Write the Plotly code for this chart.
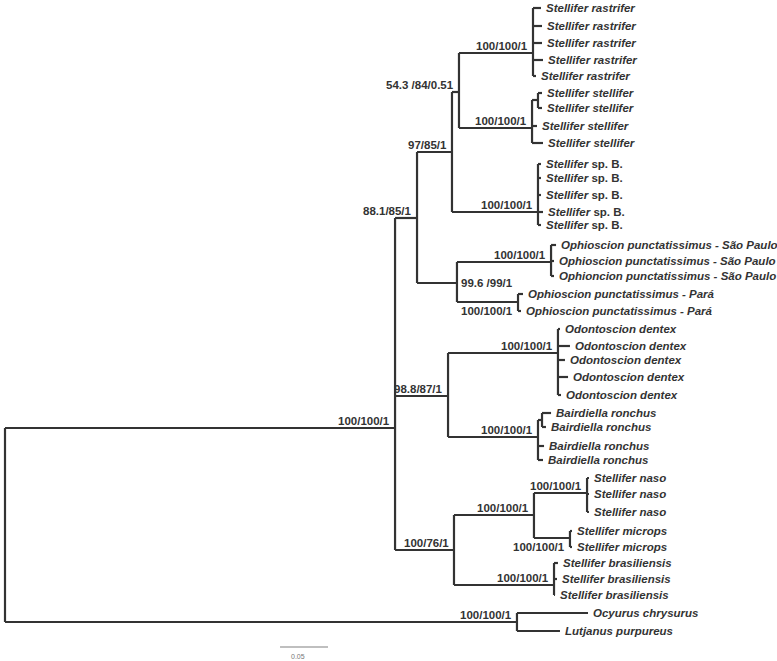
import plotly.graph_objects as go

# ---------------- data ----------------
# Leaves: name, parent node, tip depth (substitutions/site from root), row (vertical order position)
taxa = [
    "<i>Stellifer rastrifer</i>", "<i>Stellifer rastrifer</i>", "<i>Stellifer rastrifer</i>",
    "<i>Stellifer rastrifer</i>", "<i>Stellifer rastrifer</i>",
    "<i>Stellifer stellifer</i>", "<i>Stellifer stellifer</i>", "<i>Stellifer stellifer</i>",
    "<i>Stellifer stellifer</i>",
    "<i>Stellifer</i> sp. B.", "<i>Stellifer</i> sp. B.", "<i>Stellifer</i> sp. B.",
    "<i>Stellifer</i> sp. B.", "<i>Stellifer</i> sp. B.",
    "<i>Ophioscion punctatissimus - São Paulo</i>", "<i>Ophioscion punctatissimus - São Paulo</i>",
    "<i>Ophioncion punctatissimus - São Paulo</i>",
    "<i>Ophioscion punctatissimus - Pará</i>", "<i>Ophioscion punctatissimus - Pará</i>",
    "<i>Odontoscion dentex</i>", "<i>Odontoscion dentex</i>", "<i>Odontoscion dentex</i>",
    "<i>Odontoscion dentex</i>", "<i>Odontoscion dentex</i>",
    "<i>Bairdiella ronchus</i>", "<i>Bairdiella ronchus</i>", "<i>Bairdiella ronchus</i>",
    "<i>Bairdiella ronchus</i>",
    "<i>Stellifer naso</i>", "<i>Stellifer naso</i>", "<i>Stellifer naso</i>",
    "<i>Stellifer microps</i>", "<i>Stellifer microps</i>",
    "<i>Stellifer brasiliensis</i>", "<i>Stellifer brasiliensis</i>", "<i>Stellifer brasiliensis</i>",
    "<i>Ocyurus chrysurus</i>", "<i>Lutjanus purpureus</i>",
]
tip_parent = [
    "NR", "NR", "NR", "NR", "NR",
    "NS2", "NS2", "NS", "NS",
    "NB", "NB", "NB", "NB", "NB",
    "NSP", "NSP", "NSP",
    "NPA", "NPA",
    "NOD", "NOD", "NOD", "NOD", "NOD",
    "NBA2", "NBA2", "NBA", "NBA",
    "NNA", "NNA", "NNA",
    "NMI", "NMI",
    "NBR", "NBR", "NBR",
    "NOUT", "NOUT",
]
tip_depth = [
    0.5583, 0.5594, 0.5594, 0.5604, 0.5531,
    0.5594, 0.5594, 0.5542, 0.5604,
    0.5583, 0.5583, 0.5583, 0.5604, 0.5583,
    0.5740, 0.5719, 0.5719,
    0.5396, 0.5375,
    0.5781, 0.5885, 0.5833, 0.5865, 0.5792,
    0.5688, 0.5635, 0.5615, 0.5604,
    0.6083, 0.6083, 0.6083,
    0.5906, 0.5906,
    0.5760, 0.5750, 0.5729,
    0.6073, 0.5781,
]
tip_row = [
    8, 26, 43, 60, 76,
    93, 108, 126, 143,
    164, 178, 195, 212, 225,
    245, 261, 276,
    294, 311,
    329, 346, 360, 377, 395,
    413, 427, 446, 460,
    478, 494, 512,
    531, 547,
    563, 579, 595,
    613, 631,
]

# Internal nodes
node_id = ["ROOT", "IN", "N88", "N97", "N54", "NR", "NS", "NS2", "NB", "N996", "NSP", "NPA",
           "N988", "NOD", "NBA", "NBA2", "N76", "NNM", "NNA", "NMI", "NBR", "NOUT"]
node_parent = [None, "ROOT", "IN", "N88", "N97", "N54", "N54", "NS", "N97", "N88", "N996", "N996",
               "IN", "N988", "N988", "NBA", "IN", "N76", "NNM", "NNM", "N76", "ROOT"]
node_depth = [0.0, 0.4063, 0.4292, 0.4656, 0.4729, 0.5500, 0.5490, 0.5552, 0.5552, 0.4708, 0.5688,
              0.5344, 0.4615, 0.5760, 0.5552, 0.5594, 0.4677, 0.5510, 0.6063, 0.5885, 0.5719, 0.5333]
node_row = [525, 428, 218, 152, 92, 53, 128, 100, 212, 283, 262, 302,
            396, 353, 437, 420, 550, 515, 493, 538, 585, 622]
node_support = ["", "100/100/1", "88.1/85/1", "97/85/1", "54.3 /84/0.51", "100/100/1", "100/100/1",
                "", "100/100/1", "99.6 /99/1", "100/100/1", "100/100/1",
                "98.8/87/1", "100/100/1", "100/100/1", "", "100/76/1", "100/100/1", "100/100/1",
                "100/100/1", "100/100/1", "100/100/1"]
# label placement (style)
support_place = ["above", "above", "above", "above", "above", "above", "above",
                 "above", "above", "right", "above", "below",
                 "above", "above", "above", "above", "above", "above", "above",
                 "below", "above", "above"]

scale_length = 0.05
scale_label = "0.05"
scale_start = 0.2865
scale_row = 647

# ---------------- build ----------------
LINE = "#333333"
TXT = "#333333"
depth = dict(zip(node_id, node_depth))
row = dict(zip(node_id, node_row))

xs, ys = [], []
children_rows = {n: [] for n in node_id}

# horizontal branches for leaves
for p, d, r in zip(tip_parent, tip_depth, tip_row):
    xs += [depth[p], d, None]
    ys += [r, r, None]
    children_rows[p].append(r)
# horizontal branches for internal nodes
for n, p in zip(node_id, node_parent):
    if p is None:
        continue
    xs += [depth[p], depth[n], None]
    ys += [row[n], row[n], None]
    children_rows[p].append(row[n])
# vertical connectors
for n in node_id:
    rs = children_rows[n]
    if rs:
        xs += [depth[n], depth[n], None]
        ys += [min(rs), max(rs), None]

fig = go.Figure()
fig.add_trace(go.Scatter(x=xs, y=ys, mode="lines",
                         line=dict(color=LINE, width=2.2), hoverinfo="skip",
                         showlegend=False))

# scale bar
fig.add_trace(go.Scatter(x=[scale_start, scale_start + scale_length], y=[scale_row, scale_row],
                         mode="lines", line=dict(color="#aaaaaa", width=1.5),
                         hoverinfo="skip", showlegend=False))

annotations = []
for name, d, r in zip(taxa, tip_depth, tip_row):
    annotations.append(dict(x=d, y=r, text=name, showarrow=False, xanchor="left",
                            yanchor="middle", xshift=3,
                            font=dict(family="Liberation Sans", size=11.5, color=TXT,
                                      weight="bold")))
for n, s, pl in zip(node_id, node_support, support_place):
    if not s:
        continue
    if pl == "above":
        a = dict(xanchor="right", xshift=-3, yshift=7)
    elif pl == "below":
        a = dict(xanchor="right", xshift=-3, yshift=-9)
    else:
        a = dict(xanchor="left", xshift=2, yshift=0)
    annotations.append(dict(x=depth[n], y=row[n], text=s, showarrow=False, yanchor="middle",
                            font=dict(family="Liberation Sans", size=11.5, color=TXT,
                                      weight="bold"), **a))
annotations.append(dict(x=scale_start, y=scale_row, text=scale_label, showarrow=False,
                        xanchor="left", yanchor="middle", xshift=9, yshift=-9,
                        font=dict(family="Liberation Sans", size=7, color="#777777")))

fig.update_layout(
    width=777, height=661,
    margin=dict(l=0, r=0, t=0, b=0),
    paper_bgcolor="white", plot_bgcolor="white",
    xaxis=dict(range=[-5 / 960, 772 / 960], visible=False, fixedrange=True),
    yaxis=dict(range=[661, 0], visible=False, fixedrange=True),
    annotations=annotations,
)

fig.write_html("out.html", config={"displayModeBar": False},
               post_script="document.body.style.margin='0';document.body.style.overflow='hidden';")
